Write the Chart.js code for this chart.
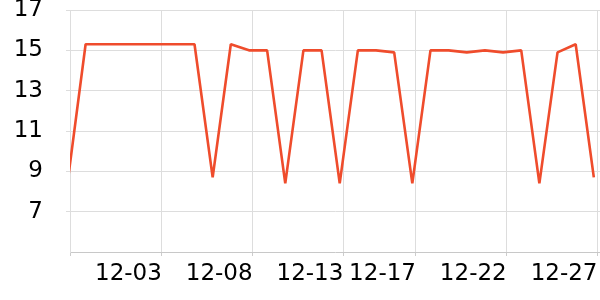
<!DOCTYPE html>
<html>
<head>
<meta charset="utf-8">
<script src="https://cdn.jsdelivr.net/npm/chart.js@4"></script>
<style>
  html, body { margin: 0; padding: 0; background: #fff; }
</style>
</head>
<body>
<canvas id="chart" width="600" height="300"></canvas>
<script>
// one point per day
const dates = [
  "11-28", "11-29", "11-30", "12-01", "12-02", "12-03", "12-04", "12-05",
  "12-06", "12-07", "12-08", "12-09", "12-10", "12-11", "12-12", "12-13",
  "12-14", "12-15", "12-16", "12-17", "12-18", "12-19", "12-20", "12-21",
  "12-22", "12-23", "12-24", "12-25", "12-26", "12-27",
];
const values = [
  8.4, 15.3, 15.3, 15.3, 15.3, 15.3, 15.3, 15.3, 8.7, 15.3,
  15.0, 15.0, 8.4, 15.0, 15.0, 8.4, 15.0, 15.0, 14.9, 8.4,
  15.0, 15.0, 14.9, 15.0, 14.9, 15.0, 8.4, 14.9, 15.3, 8.7,
];
const xTickLabels = ["12-03", "12-08", "12-13", "12-17", "12-22", "12-27"];
const yTicks = [7, 9, 11, 13, 15, 17];

// gridlines sit a little after the day's point (timestamps are shifted)
const TICK_SHIFT = 0.2;
const X_MIN = 0.14;
const X_MAX = 29.34;

const font = { family: "DejaVu Sans", size: 23 };
const tickPos = {};
xTickLabels.forEach((l) => {
  tickPos[(dates.indexOf(l) + TICK_SHIFT).toFixed(2)] = l;
});

new Chart(document.getElementById("chart"), {
  type: "line",
  data: {
    datasets: [
      {
        data: values.map((v, i) => ({ x: i, y: v })),
        borderColor: "#ef4c2c",
        borderWidth: 2.6,
        borderJoinStyle: "bevel",
        pointRadius: 0,
        tension: 0,
        fill: false,
        clip: 0,
      },
    ],
  },
  options: {
    responsive: false,
    animation: false,
    layout: { padding: 0 },
    plugins: { legend: { display: false }, tooltip: { enabled: false } },
    scales: {
      x: {
        type: "linear",
        min: X_MIN,
        max: X_MAX,
        afterBuildTicks(scale) {
          scale.ticks = [{ value: X_MIN }].concat(
            Object.keys(tickPos).map((k) => ({ value: parseFloat(k) }))
          );
        },
        afterFit(scale) {
          scale.height = 48;
          scale.paddingLeft = 0;
          scale.paddingRight = 0;
        },
        grid: { color: "#dddddd", tickLength: 4, tickColor: "#cccccc" },
        border: { color: "#c8c8c8" },
        ticks: {
          autoSkip: false,
          maxRotation: 0,
          align: "end",
          padding: 4,
          color: "#000",
          font,
          callback: (v) => tickPos[Number(v).toFixed(2)] || "",
        },
      },
      y: {
        min: 5,
        max: 17,
        afterBuildTicks(scale) {
          scale.ticks = yTicks.map((v) => ({ value: v }));
        },
        afterFit(scale) {
          scale.width = 70;
          scale.paddingTop = 10;
          scale.paddingBottom = 0;
        },
        grid: { color: "#dddddd", tickLength: 4, tickColor: "#dddddd" },
        border: { color: "#dddddd" },
        ticks: { padding: 23, color: "#000", font },
      },
    },
  },
});
</script>
</body>
</html>
